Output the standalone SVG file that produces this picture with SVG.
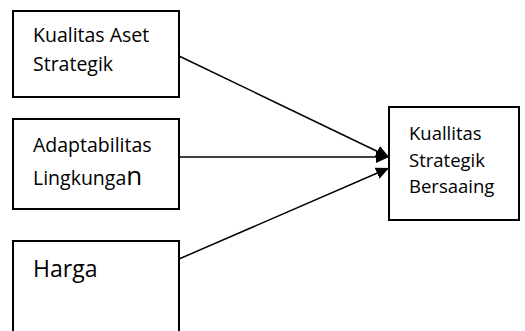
<svg xmlns="http://www.w3.org/2000/svg" width="525" height="331" viewBox="0 0 525 331">
<style>
.box{fill:#fff;stroke:#000;stroke-width:2}
.lbl{font-family:"Open Sans","Noto Sans",sans-serif;fill:#000}
.conn{stroke:#000;stroke-width:1.5;fill:none}
</style>
<defs>
<marker id="ah" markerUnits="userSpaceOnUse" markerWidth="14" markerHeight="12" refX="13" refY="6" orient="auto">
<path d="M0,0 L13,6 L0,12 Z" fill="#000"/>
</marker>
</defs>
<rect width="525" height="331" fill="#fff"/>
<g id="connectors">
<line class="conn" x1="179" y1="56" x2="389" y2="157" marker-end="url(#ah)"/>
<line class="conn" x1="179" y1="157" x2="389" y2="157" marker-end="url(#ah)"/>
<line class="conn" x1="179" y1="259" x2="389" y2="168" marker-end="url(#ah)"/>
</g>
<g id="node-aset">
<rect class="box" x="13" y="11" width="166" height="86"/>
<text class="lbl" font-size="19.5" x="33" y="42">Kualitas Aset</text>
<text class="lbl" font-size="19.5" x="33" y="71">Strategik</text>
</g>
<g id="node-adaptabilitas">
<rect class="box" x="13" y="119" width="166" height="90"/>
<text class="lbl" font-size="19.5" x="33" y="152">Adaptabilitas</text>
<text class="lbl" font-size="19.5" x="33" y="185">Lingkunga<tspan font-size="26">n</tspan></text>
</g>
<g id="node-harga">
<path class="box" d="M13,335 L13,241 L179,241 L179,335"/>
<text class="lbl" font-size="23" x="33" y="277">Harga</text>
</g>
<g id="node-bersaing">
<rect class="box" x="389" y="107" width="130" height="113"/>
<text class="lbl" font-size="18.5" x="409" y="140">Kuallitas</text>
<text class="lbl" font-size="18.5" x="409" y="167">Strategik</text>
<text class="lbl" font-size="18.5" x="409" y="193">Bersaaing</text>
</g>
</svg>
